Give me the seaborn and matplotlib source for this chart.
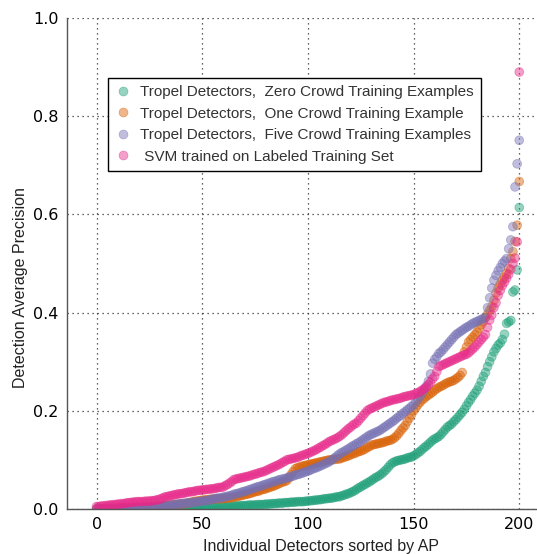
import pandas as pd
import seaborn as sns
import matplotlib.pyplot as plt

sns.set_style("white")

# Sorted AP per detector (index 0..200)
zero_crowd = [
    0, 0, 0, 0, 0, 0, 0, 0, 0, 0,
    0, 0, 0, 0, 0, 0, 0, 0, 0, 0,
    0, 0, 0, 0, 0, 0, 0, 0, 0, 0,
    0, 0, 0, 0, 0, 0, 0, 0, 0, 0,
    0, 0, 0, 0, 0, 0.001, 0.001, 0.001, 0.001, 0.001,
    0.001, 0.002, 0.002, 0.002, 0.002, 0.003, 0.003, 0.003, 0.003, 0.004,
    0.004, 0.004, 0.005, 0.005, 0.005, 0.006, 0.006, 0.006, 0.007, 0.007,
    0.007, 0.007, 0.008, 0.008, 0.008, 0.008, 0.009, 0.009, 0.009, 0.009,
    0.010, 0.010, 0.010, 0.011, 0.011, 0.011, 0.012, 0.012, 0.012, 0.013,
    0.013, 0.013, 0.014, 0.014, 0.014, 0.015, 0.015, 0.015, 0.015, 0.016,
    0.016, 0.017, 0.017, 0.018, 0.018, 0.019, 0.019, 0.020, 0.021, 0.021,
    0.022, 0.022, 0.023, 0.024, 0.025, 0.025, 0.027, 0.028, 0.030, 0.031,
    0.033, 0.035, 0.037, 0.040, 0.043, 0.045, 0.048, 0.050, 0.053, 0.055,
    0.058, 0.061, 0.064, 0.066, 0.069, 0.072, 0.076, 0.080, 0.085, 0.090,
    0.094, 0.096, 0.098, 0.099, 0.100, 0.101, 0.102, 0.104, 0.105, 0.106,
    0.108, 0.111, 0.114, 0.117, 0.121, 0.125, 0.128, 0.132, 0.136, 0.140,
    0.143, 0.145, 0.148, 0.152, 0.157, 0.162, 0.167, 0.170, 0.173, 0.178,
    0.182, 0.187, 0.192, 0.197, 0.203, 0.210, 0.217, 0.223, 0.230, 0.236,
    0.242, 0.250, 0.260, 0.270, 0.278, 0.290, 0.300, 0.310, 0.320, 0.327,
    0.334, 0.338, 0.345, 0.356, 0.378, 0.381, 0.384, 0.442, 0.446, 0.487,
    0.614,
]

one_crowd = [
    0.000, 0.000, 0.000, 0.000, 0.000, 0.001, 0.001, 0.001, 0.001, 0.001,
    0.001, 0.001, 0.002, 0.002, 0.002, 0.002, 0.002, 0.003, 0.003, 0.003,
    0.003, 0.003, 0.004, 0.004, 0.004, 0.004, 0.005, 0.005, 0.005, 0.006,
    0.006, 0.006, 0.007, 0.007, 0.007, 0.008, 0.008, 0.009, 0.009, 0.010,
    0.010, 0.011, 0.011, 0.012, 0.013, 0.014, 0.015, 0.016, 0.016, 0.017,
    0.018, 0.018, 0.019, 0.019, 0.020, 0.020, 0.020, 0.021, 0.021, 0.021,
    0.021, 0.022, 0.022, 0.023, 0.023, 0.024, 0.025, 0.026, 0.027, 0.028,
    0.029, 0.030, 0.031, 0.032, 0.034, 0.035, 0.036, 0.037, 0.039, 0.040,
    0.041, 0.043, 0.044, 0.046, 0.047, 0.049, 0.051, 0.053, 0.055, 0.056,
    0.058, 0.063, 0.070, 0.076, 0.082, 0.084, 0.085, 0.087, 0.088, 0.089,
    0.090, 0.091, 0.092, 0.093, 0.094, 0.095, 0.096, 0.097, 0.098, 0.099,
    0.100, 0.100, 0.101, 0.101, 0.102, 0.102, 0.104, 0.105, 0.107, 0.108,
    0.110, 0.112, 0.113, 0.115, 0.117, 0.118, 0.120, 0.122, 0.125, 0.127,
    0.130, 0.131, 0.132, 0.133, 0.134, 0.135, 0.136, 0.138, 0.139, 0.140,
    0.142, 0.145, 0.149, 0.154, 0.160, 0.165, 0.170, 0.178, 0.185, 0.192,
    0.200, 0.206, 0.212, 0.217, 0.222, 0.225, 0.229, 0.232, 0.235, 0.238,
    0.242, 0.245, 0.248, 0.250, 0.252, 0.255, 0.257, 0.259, 0.260, 0.262,
    0.265, 0.268, 0.272, 0.278, 0.320, 0.330, 0.340, 0.345, 0.350, 0.355,
    0.360, 0.368, 0.375, 0.382, 0.390, 0.397, 0.405, 0.412, 0.425, 0.440,
    0.450, 0.458, 0.466, 0.472, 0.480, 0.490, 0.510, 0.524, 0.545, 0.578,
    0.667,
]

five_crowd = [
    0.000, 0.000, 0.000, 0.000, 0.000, 0.000, 0.000, 0.000, 0.000, 0.000,
    0.001, 0.001, 0.001, 0.001, 0.001, 0.001, 0.002, 0.002, 0.002, 0.002,
    0.002, 0.002, 0.003, 0.003, 0.003, 0.003, 0.004, 0.004, 0.004, 0.005,
    0.005, 0.006, 0.006, 0.007, 0.007, 0.008, 0.008, 0.009, 0.010, 0.010,
    0.011, 0.011, 0.012, 0.012, 0.013, 0.013, 0.014, 0.014, 0.015, 0.015,
    0.016, 0.017, 0.017, 0.018, 0.019, 0.020, 0.021, 0.022, 0.022, 0.023,
    0.024, 0.025, 0.026, 0.027, 0.028, 0.030, 0.031, 0.032, 0.033, 0.035,
    0.036, 0.037, 0.039, 0.040, 0.042, 0.043, 0.045, 0.046, 0.047, 0.049,
    0.050, 0.052, 0.053, 0.055, 0.056, 0.057, 0.059, 0.060, 0.061, 0.062,
    0.063, 0.065, 0.066, 0.067, 0.069, 0.070, 0.071, 0.073, 0.074, 0.076,
    0.077, 0.079, 0.081, 0.083, 0.084, 0.086, 0.088, 0.090, 0.092, 0.094,
    0.096, 0.099, 0.102, 0.105, 0.109, 0.112, 0.115, 0.117, 0.120, 0.122,
    0.125, 0.128, 0.130, 0.133, 0.135, 0.138, 0.141, 0.144, 0.147, 0.150,
    0.152, 0.154, 0.156, 0.158, 0.160, 0.163, 0.166, 0.169, 0.172, 0.175,
    0.178, 0.181, 0.185, 0.188, 0.191, 0.195, 0.198, 0.202, 0.205, 0.209,
    0.212, 0.218, 0.224, 0.229, 0.236, 0.243, 0.250, 0.260, 0.275, 0.297,
    0.305, 0.310, 0.317, 0.320, 0.325, 0.330, 0.335, 0.340, 0.345, 0.350,
    0.355, 0.358, 0.361, 0.364, 0.367, 0.370, 0.372, 0.375, 0.378, 0.380,
    0.382, 0.384, 0.386, 0.388, 0.390, 0.410, 0.430, 0.450, 0.466, 0.476,
    0.485, 0.492, 0.500, 0.505, 0.510, 0.530, 0.548, 0.575, 0.656, 0.703,
    0.751,
]

svm_labeled = [
    0.005, 0.005, 0.006, 0.006, 0.007, 0.007, 0.008, 0.008, 0.009, 0.009,
    0.010, 0.010, 0.011, 0.011, 0.012, 0.013, 0.013, 0.014, 0.014, 0.015,
    0.015, 0.015, 0.015, 0.016, 0.016, 0.016, 0.017, 0.017, 0.018, 0.019,
    0.020, 0.022, 0.024, 0.025, 0.026, 0.027, 0.028, 0.029, 0.030, 0.031,
    0.031, 0.032, 0.033, 0.034, 0.035, 0.035, 0.036, 0.037, 0.038, 0.038,
    0.039, 0.039, 0.040, 0.040, 0.041, 0.041, 0.042, 0.043, 0.044, 0.044,
    0.045, 0.048, 0.050, 0.053, 0.056, 0.060, 0.061, 0.062, 0.063, 0.064,
    0.065, 0.066, 0.067, 0.068, 0.070, 0.071, 0.072, 0.074, 0.075, 0.076,
    0.078, 0.080, 0.082, 0.084, 0.086, 0.088, 0.090, 0.092, 0.095, 0.097,
    0.100, 0.101, 0.102, 0.103, 0.104, 0.105, 0.107, 0.109, 0.110, 0.112,
    0.113, 0.115, 0.117, 0.119, 0.121, 0.124, 0.126, 0.129, 0.131, 0.134,
    0.137, 0.139, 0.141, 0.143, 0.145, 0.148, 0.151, 0.155, 0.159, 0.163,
    0.166, 0.170, 0.173, 0.175, 0.180, 0.185, 0.190, 0.195, 0.200, 0.203,
    0.205, 0.207, 0.209, 0.211, 0.213, 0.215, 0.217, 0.218, 0.219, 0.221,
    0.222, 0.223, 0.224, 0.225, 0.226, 0.228, 0.229, 0.230, 0.231, 0.232,
    0.233, 0.235, 0.237, 0.239, 0.242, 0.245, 0.248, 0.253, 0.258, 0.265,
    0.270, 0.280, 0.290, 0.292, 0.294, 0.296, 0.298, 0.300, 0.302, 0.304,
    0.306, 0.308, 0.310, 0.312, 0.314, 0.315, 0.318, 0.322, 0.326, 0.330,
    0.335, 0.340, 0.345, 0.350, 0.355, 0.370, 0.385, 0.395, 0.410, 0.420,
    0.435, 0.445, 0.455, 0.462, 0.470, 0.478, 0.488, 0.500, 0.511, 0.544,
    0.890,
]

series_labels = [
    "Tropel Detectors,  Zero Crowd Training Examples",
    "Tropel Detectors,  One Crowd Training Example",
    "Tropel Detectors,  Five Crowd Training Examples",
    " SVM trained on Labeled Training Set",
]
series_colors = ["#1b9e77", "#d95f02", "#7570b3", "#e7298a"]

frames = []
for lab, vals in zip(series_labels, [zero_crowd, one_crowd, five_crowd, svm_labeled]):
    frames.append(pd.DataFrame({"detector": range(len(vals)), "ap": vals, "method": lab}))
df = pd.concat(frames, ignore_index=True)

fig = plt.figure(figsize=(5.37, 5.54), dpi=100)
ax = fig.add_axes([67 / 537, 45 / 554, 1 - 67 / 537, 491 / 554])

sns.scatterplot(data=df, x="detector", y="ap", hue="method",
                palette=series_colors, s=40, alpha=0.45,
                edgecolor="face", linewidth=0.6, ax=ax)

ax.set_xlim(-14, 208.4)
ax.set_ylim(0, 1.0)
ax.set_xticks([0, 50, 100, 150, 200])
ax.set_yticks([0.0, 0.2, 0.4, 0.6, 0.8, 1.0])
ax.set_yticklabels(["0.0", "0.2", "0.4", "0.6", "0.8", "1.0"])
ax.tick_params(length=0, labelsize=11.5, pad=6, colors="black")
ax.grid(True, linestyle=(0, (1, 3)), color="#333333", linewidth=0.9)
for side in ["top", "right"]:
    ax.spines[side].set_visible(False)
for side in ["left", "bottom"]:
    ax.spines[side].set_color("#555555")
    ax.spines[side].set_linewidth(1.0)

ax.set_xlabel("Individual Detectors sorted by AP", family="Liberation Sans",
              fontsize=11.5, color="#222222")
ax.set_ylabel("Detection Average Precision", family="Liberation Sans",
              fontsize=11.5, color="#222222")
ax.xaxis.set_label_coords(0.54, -0.062)
ax.yaxis.set_label_coords(-0.083, 0.452)

handles, labels = ax.get_legend_handles_labels()
leg = ax.legend(handles, labels, loc="upper left",
                bbox_to_anchor=(108 / 537, 1 - 78 / 554),
                bbox_transform=fig.transFigure, borderaxespad=0,
                frameon=True, fancybox=False, framealpha=1,
                prop={"family": "Liberation Sans", "size": 11},
                handletextpad=0.55, labelspacing=0.5, borderpad=0.45,
                markerscale=1.0, handlelength=1.1)
leg.get_frame().set_edgecolor("black")
leg.get_frame().set_linewidth(1.0)
for t in leg.get_texts():
    t.set_color("#333333")
for h in leg.legend_handles:
    h.set_alpha(0.45)

fig.savefig("out.png", dpi=100)
